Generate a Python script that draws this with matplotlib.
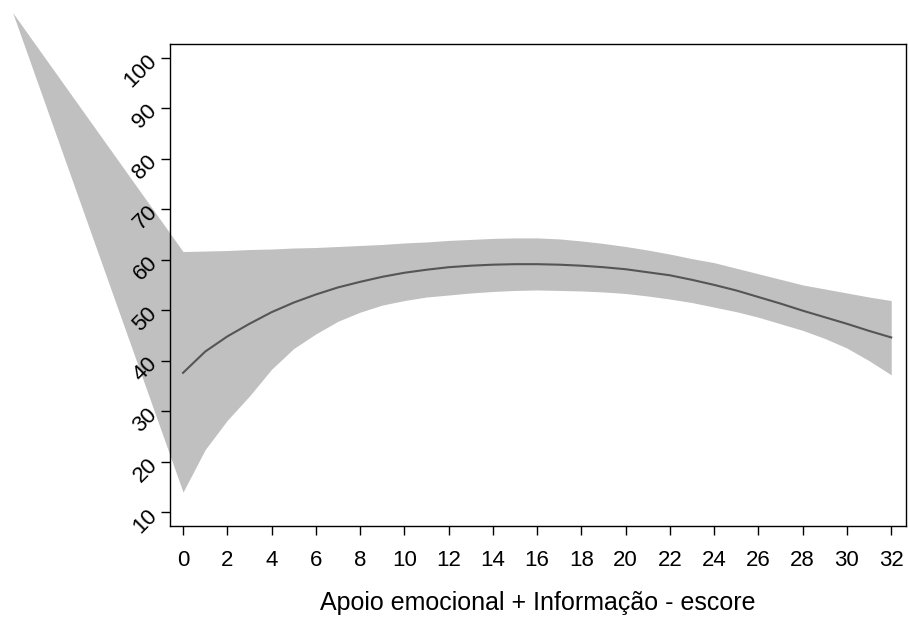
import matplotlib.pyplot as plt
import numpy as np

plt.rcParams['font.family'] = ['Liberation Sans', 'DejaVu Sans']

# fitted score at each x (0..32)
x_fit = list(range(0, 33))
y_fit = [37.6, 41.8, 44.8, 47.3, 49.6, 51.5, 53.1, 54.5, 55.6, 56.6, 57.4,
         58.0, 58.5, 58.8, 59.0, 59.1, 59.1, 59.0, 58.8, 58.5, 58.1, 57.5,
         56.9, 56.0, 55.0, 53.9, 52.6, 51.3, 49.9, 48.6, 47.3, 45.9, 44.6]

# confidence band (first point is the stray vertex outside the plot area)
x_band = [-7.7] + x_fit
ci_hi = [108.9,
         61.6, 61.7, 61.8, 62.0, 62.1, 62.3, 62.4, 62.6, 62.8, 63.0, 63.3,
         63.5, 63.8, 64.0, 64.2, 64.3, 64.3, 64.1, 63.7, 63.2, 62.6, 61.9,
         61.1, 60.2, 59.4, 58.3, 57.2, 56.1, 55.0, 54.2, 53.4, 52.6, 51.9]
ci_lo = [108.9,
         14.0, 22.4, 28.2, 33.0, 38.3, 42.4, 45.3, 47.8, 49.6, 51.0, 51.9,
         52.6, 53.0, 53.4, 53.7, 53.9, 54.0, 53.9, 53.8, 53.6, 53.3, 52.8,
         52.2, 51.5, 50.6, 49.7, 48.6, 47.3, 46.0, 44.4, 42.5, 40.0, 37.2]

xticks = list(range(0, 33, 2))
yticks = list(range(10, 101, 10))

fig = plt.figure(figsize=(9.09, 6.18), dpi=100)
ax = fig.add_axes([0.187, 0.149, 0.810, 0.780])

ax.fill_between(x_band, ci_lo, ci_hi, color='#c0c0c0', linewidth=0,
                clip_on=False, zorder=1)
ax.plot(x_fit, y_fit, color='#555555', linewidth=1.5, zorder=2)

ax.set_xlim(-0.59, 32.68)
ax.set_ylim(7.3, 102.7)
ax.set_xticks(xticks)
ax.set_yticks(yticks)
ax.set_yticklabels([str(v) for v in yticks], rotation=45,
                   rotation_mode='anchor', ha='right', va='center')

ax.tick_params(axis='both', direction='out', length=6.5, width=1.0,
               labelsize=16, color='black')
ax.tick_params(axis='x', pad=11)
ax.tick_params(axis='y', pad=5)

for s in ax.spines.values():
    s.set_linewidth(1.0)
    s.set_color('black')

ax.set_xlabel('Apoio emocional + Informação - escore', fontsize=18, labelpad=14)

fig.savefig('out.png', dpi=100, facecolor='white')
